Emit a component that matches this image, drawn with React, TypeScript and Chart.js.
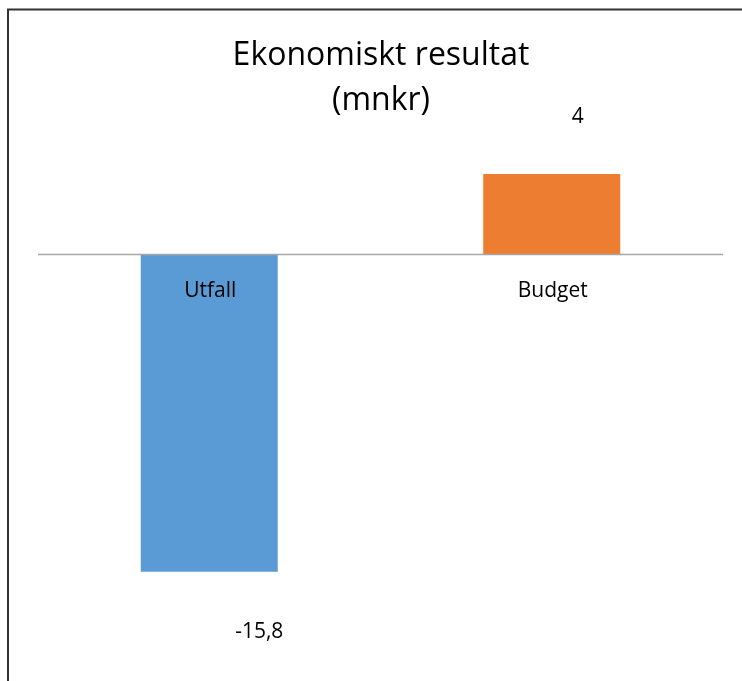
import React, { useEffect, useRef } from "react";
import { Chart, registerables } from "chart.js";

Chart.register(...registerables);

const categories = ["Utfall", "Budget"];
const values = [-15.8, 4];
const valueLabels = ["-15,8", "4"];
const barColors = ["#5B9BD5", "#ED7D31"];
const titleLines = ["Ekonomiskt resultat", "(mnkr)"];
const yMin = -20;
const yMax = 5;

const FONT = "'Open Sans', 'DejaVu Sans', sans-serif";

const decorPlugin = {
  id: "decor",
  beforeDraw(chart: any) {
    const ctx = chart.ctx;
    ctx.save();
    ctx.fillStyle = "#ffffff";
    ctx.fillRect(0, 0, chart.width, chart.height);
    ctx.strokeStyle = "#333333";
    ctx.lineWidth = 2;
    ctx.strokeRect(8, 9.5, chart.width + 20, chart.height + 20);
    ctx.restore();
  },
  afterDatasetsDraw(chart: any) {
    const ctx = chart.ctx;
    const xs = chart.scales.x;
    const ys = chart.scales.y;
    const area = chart.chartArea;
    const zeroY = ys.getPixelForValue(0);
    ctx.save();
    // zero line
    ctx.strokeStyle = "#A6A6A6";
    ctx.lineWidth = 1.5;
    ctx.beginPath();
    ctx.moveTo(area.left, zeroY);
    ctx.lineTo(area.right, zeroY);
    ctx.stroke();

    // title
    ctx.fillStyle = "#000000";
    ctx.textAlign = "center";
    ctx.textBaseline = "middle";
    ctx.font = `32px ${FONT}`;
    ctx.fillText(titleLines[0], 381, 56);
    ctx.fillText(titleLines[1], 381, 101);

    // category labels
    ctx.font = `21px ${FONT}`;
    categories.forEach((c, i) => {
      ctx.fillText(c, xs.getPixelForValue(i) + 1, zeroY + 37);
    });

    // value labels
    const meta = chart.getDatasetMeta(0);
    ctx.font = `21px ${FONT}`;
    values.forEach((v, i) => {
      const bar = meta.data[i];
      const y = v < 0 ? ys.getPixelForValue(v) + 60 : ys.getPixelForValue(v) - 57;
      ctx.fillText(valueLabels[i], bar.x + (v < 0 ? 50 : 26), y);
    });
    ctx.restore();
  },
};

export default function App() {
  const ref = useRef<HTMLCanvasElement>(null);
  useEffect(() => {
    if (!ref.current) return;
    const chart = new Chart(ref.current, {
      type: "bar",
      data: {
        labels: categories,
        datasets: [
          {
            data: values,
            backgroundColor: barColors,
            borderWidth: 0,
            barPercentage: 0.4,
            categoryPercentage: 1,
          },
        ],
      },
      options: {
        responsive: false,
        animation: false,
        devicePixelRatio: 1,
        layout: { padding: { left: 38, right: 19, top: 154, bottom: 25 } },
        plugins: { legend: { display: false }, tooltip: { enabled: false }, title: { display: false } },
        scales: {
          x: { display: false, grid: { display: false } },
          y: { display: false, min: yMin, max: yMax, grid: { display: false } },
        },
      },
      plugins: [decorPlugin],
    });
    return () => chart.destroy();
  }, []);
  return (
    <div style={{ position: "fixed", left: 0, top: 0, width: 742, height: 681, background: "#fff" }}>
      <canvas ref={ref} width={742} height={681} style={{ display: "block", width: 742, height: 681 }} />
    </div>
  );
}
